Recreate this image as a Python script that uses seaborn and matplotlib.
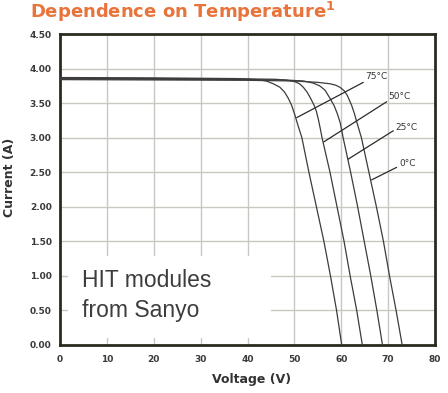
import numpy as np
import pandas as pd
import seaborn as sns
import matplotlib.pyplot as plt
from matplotlib.patches import Rectangle

# I-V curves (voltage V, current A)
v_75 = [0, 20, 38, 42.0, 44.0, 45.5, 46.9, 47.9, 48.7, 49.4, 50.1, 50.8, 51.6, 53.1, 54.7, 56.3, 57.7, 59.0, 60.1]
i_75 = [3.87, 3.865, 3.855, 3.84, 3.82, 3.78, 3.73, 3.66, 3.57, 3.47, 3.33, 3.17, 3.00, 2.50, 2.00, 1.50, 1.00, 0.50, 0.00]

v_50 = [0, 20, 40, 46.0, 48.5, 50.1, 51.1, 51.9, 52.7, 53.3, 54.2, 54.7, 55.1, 55.5, 55.9, 57.6, 59.1, 60.6, 61.9, 63.3, 64.5]
i_50 = [3.86, 3.855, 3.85, 3.845, 3.83, 3.81, 3.78, 3.73, 3.66, 3.59, 3.47, 3.38, 3.27, 3.14, 3.00, 2.50, 2.00, 1.50, 1.00, 0.50, 0.00]

v_25 = [0, 20, 40, 48.0, 52.0, 54.0, 55.4, 56.5, 57.6, 58.5, 59.2, 59.8, 60.4, 62.0, 63.5, 64.9, 66.3, 67.6, 68.8]
i_25 = [3.85, 3.845, 3.84, 3.835, 3.82, 3.79, 3.75, 3.69, 3.57, 3.46, 3.34, 3.21, 3.00, 2.50, 2.00, 1.50, 1.00, 0.50, 0.00]

v_0 = [0, 20, 40, 50.0, 55.0, 57.6, 58.8, 59.7, 60.6, 61.3, 62.2, 62.8, 63.3, 64.3, 65.9, 67.5, 69.0, 70.3, 71.7, 73.0]
i_0 = [3.84, 3.835, 3.83, 3.82, 3.80, 3.78, 3.76, 3.73, 3.68, 3.61, 3.47, 3.35, 3.23, 3.00, 2.50, 2.00, 1.50, 1.00, 0.50, 0.00]

temps = ["75°C", "50°C", "25°C", "0°C"]
# label text position and leader line (from label to curve)
label_xy = [(65.1, 3.89), (70.0, 3.60), (71.5, 3.15), (72.3, 2.63)]
leader_from = [(64.7, 3.80), (69.7, 3.52), (71.1, 3.10), (71.8, 2.57)]
leader_to = [(50.5, 3.29), (56.3, 2.94), (61.5, 2.69), (66.5, 2.39)]

x_ticks = [0, 10, 20, 30, 40, 50, 60, 70, 80]
y_ticks = [0.0, 0.5, 1.0, 1.5, 2.0, 2.5, 3.0, 3.5, 4.0, 4.5]

frames = []
for t, v, i in zip(temps, [v_75, v_50, v_25, v_0], [i_75, i_50, i_25, i_0]):
    frames.append(pd.DataFrame({"Voltage": v, "Current": i, "Temp": t}))
df = pd.concat(frames, ignore_index=True)

sns.set_style("white")
plt.rcParams["font.family"] = ["DejaVu Sans"]

fig = plt.figure(figsize=(4.48, 3.93), dpi=100)
ax = fig.add_axes([60 / 448, 48 / 393, 375 / 448, 311 / 393])

dark = "#2b2a1f"
grid_c = "#c8c8c0"

for x in x_ticks[1:-1]:
    ax.axvline(x, color=grid_c, lw=1.0, zorder=0)
for y in y_ticks[1:-1]:
    ax.axhline(y, color=grid_c, lw=1.0, zorder=0)

# white box behind the caption hides part of the grid
ax.add_patch(Rectangle((1.7, 0.10), 43.3, 1.19, facecolor="white", edgecolor="none", zorder=1))

sns.lineplot(data=df, x="Voltage", y="Current", hue="Temp",
             palette=["#3c3c3c"] * 4, estimator=None, sort=False,
             legend=False, lw=0.9, ax=ax, zorder=3)

for t, (lx, ly), (fx, fy), (tx, ty) in zip(temps, label_xy, leader_from, leader_to):
    ax.plot([fx, tx], [fy, ty], color="#2a2a2a", lw=0.9, zorder=3)
    ax.text(lx, ly, t, fontsize=6.5, color="#333333", va="center", ha="left", zorder=4)

ax.text(4.6, 0.84, "HIT modules", fontsize=16.5, family="Liberation Sans",
        color="#3d3d3d", va="baseline", zorder=4)
ax.text(4.6, 0.41, "from Sanyo", fontsize=16.5, family="Liberation Sans",
        color="#3d3d3d", va="baseline", zorder=4)

ax.set_xlim(0, 80)
ax.set_ylim(0, 4.5)
ax.set_xticks(x_ticks)
ax.set_yticks(y_ticks)
ax.set_xticklabels([str(x) for x in x_ticks])
ax.set_yticklabels([f"{y:.2f}" for y in y_ticks])
ax.tick_params(length=0, labelsize=6.5, labelcolor="#3a3a3a")
ax.tick_params(axis="y", pad=6)
ax.tick_params(axis="x", pad=7)
for lab in ax.get_xticklabels() + ax.get_yticklabels():
    lab.set_fontweight("bold")
ax.set_xlabel("")
ax.set_ylabel("")
for s in ax.spines.values():
    s.set_color(dark)
    s.set_linewidth(2.0)
    s.set_visible(True)

fig.text(252 / 448, 1 - 380 / 393, "Voltage (V)", ha="center", va="center",
         fontsize=9, fontweight="bold", color="#333333")
fig.text(9 / 448, 1 - 177 / 393, "Current (A)", ha="center", va="center",
         rotation=90, fontsize=9, fontweight="bold", color="#333333")
fig.text(30 / 448, 1 - 12 / 393, r"Dependence on Temperature$^\mathregular{1}$",
         ha="left", va="center", fontsize=13, fontweight="bold", color="#e8743b")

fig.savefig("out.png", dpi=100)
